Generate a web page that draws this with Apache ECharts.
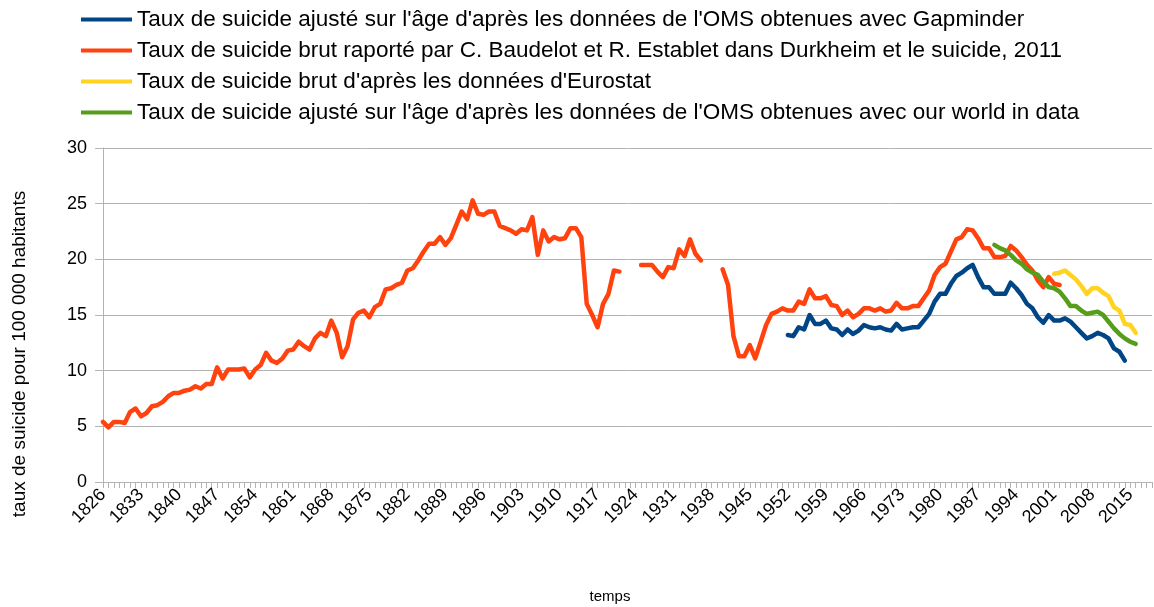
<!DOCTYPE html>
<html>
<head>
<meta charset="utf-8">
<script src="https://cdn.jsdelivr.net/npm/echarts@6/dist/echarts.min.js"></script>
<style>
html,body{margin:0;padding:0;background:#fff;}
#chart{width:1154px;height:607px;}
</style>
</head>
<body>
<div id="chart"></div>
<script>
// Categories (years)
var firstYear = 1826;
var lastYear = 2019;
var years = [];
for (var y = firstYear; y <= lastYear; y++) years.push(String(y));

// Series names
var nameGapminder = "Taux de suicide ajusté sur l'âge d'après les données de l'OMS obtenues avec Gapminder";
var nameBaudelot = "Taux de suicide brut raporté par C. Baudelot et R. Establet dans Durkheim et le suicide, 2011";
var nameEurostat = "Taux de suicide brut d'après les données d'Eurostat";
var nameOWID = "Taux de suicide ajusté sur l'âge d'après les données de l'OMS obtenues avec our world in data";

// Red series (Baudelot & Establet), three segments
var redStart1 = 1826;
var red1 = [5.4, 4.9, 5.4, 5.4, 5.3, 6.3, 6.6, 5.9, 6.2, 6.8, 6.9, 7.2, 7.7, 8.0, 8.0, 8.2, 8.3, 8.6, 8.4, 8.8,
  8.8, 10.3, 9.3, 10.1, 10.1, 10.1, 10.2, 9.4, 10.1, 10.5, 11.6, 10.9, 10.7, 11.1, 11.8, 11.9, 12.6, 12.2, 11.9, 12.9,
  13.4, 13.1, 14.5, 13.4, 11.2, 12.2, 14.6, 15.2, 15.4, 14.8, 15.7, 16.0, 17.3, 17.4, 17.7, 17.9, 19.0, 19.2, 19.9, 20.7,
  21.4, 21.4, 22.0, 21.3, 21.9, 23.1, 24.3, 23.6, 25.3, 24.1, 24.0, 24.3, 24.3, 23.0, 22.8, 22.6, 22.3, 22.7, 22.6, 23.8,
  20.4, 22.6, 21.6, 22.0, 21.8, 21.9, 22.8, 22.8, 22.0, 16.0, 15.0, 13.9, 16.0, 16.9, 19.0, 18.9];
var redStart2 = 1925;
var red2 = [19.5, 19.5, 19.5, 18.9, 18.4, 19.3, 19.2, 20.9, 20.3, 21.8, 20.5, 19.9];
var redStart3 = 1940;
var red3 = [19.1, 17.7, 13.1, 11.3, 11.3, 12.3, 11.1, 12.6, 14.1, 15.1, 15.3, 15.6, 15.4, 15.4, 16.2, 16.0, 17.3, 16.5,
  16.5, 16.7, 15.9, 15.8, 15.0, 15.4, 14.8, 15.1, 15.6, 15.6, 15.4, 15.6, 15.3, 15.4, 16.1, 15.6, 15.6, 15.8, 15.8, 16.5,
  17.2, 18.6, 19.3, 19.6, 20.7, 21.8, 22.0, 22.7, 22.6, 21.9, 21.0, 21.0, 20.2, 20.2, 20.3, 21.2, 20.8, 20.2, 19.5, 19.0,
  18.1, 17.5, 18.4, 17.8, 17.7];

// Blue series (WHO via Gapminder)
var blueStart = 1952;
var blue = [13.2, 13.1, 13.9, 13.7, 15.0, 14.2, 14.2, 14.5, 13.8, 13.7, 13.2, 13.7, 13.3, 13.6, 14.1, 13.9, 13.8, 13.9,
  13.7, 13.6, 14.2, 13.7, 13.8, 13.9, 13.9, 14.5, 15.1, 16.2, 16.9, 16.9, 17.8, 18.5, 18.8, 19.2, 19.5, 18.4, 17.5, 17.5,
  16.9, 16.9, 16.9, 17.9, 17.4, 16.8, 16.0, 15.6, 14.8, 14.3, 15.0, 14.5, 14.5, 14.7, 14.4, 13.9, 13.4, 12.9, 13.1, 13.4,
  13.2, 12.9, 12.0, 11.7, 10.9];

// Yellow series (Eurostat)
var yellowStart = 2001;
var yellow = [18.7, 18.8, 19.0, 18.6, 18.2, 17.6, 16.9, 17.4, 17.4, 17.0, 16.7, 15.7, 15.4, 14.2, 14.1, 13.4];

// Green series (WHO via Our World in Data)
var greenStart = 1990;
var green = [21.3, 21.0, 20.8, 20.4, 19.9, 19.6, 19.1, 18.8, 18.6, 18.0, 17.5, 17.4, 17.1, 16.5, 15.8, 15.8, 15.4, 15.1,
  15.2, 15.3, 15.0, 14.4, 13.8, 13.3, 12.9, 12.6, 12.4];

// Y-axis ticks
var yMin = 0, yMax = 30, yStep = 5;

function place(target, start, values) {
  for (var i = 0; i < values.length; i++) {
    var idx = start - firstYear + i;
    if (idx >= 0 && idx < target.length) target[idx] = values[i];
  }
}
function emptyRow() { var a = []; for (var i = 0; i < years.length; i++) a.push(null); return a; }

var redData = emptyRow(); place(redData, redStart1, red1); place(redData, redStart2, red2); place(redData, redStart3, red3);
var blueData = emptyRow(); place(blueData, blueStart, blue);
var yellowData = emptyRow(); place(yellowData, yellowStart, yellow);
var greenData = emptyRow(); place(greenData, greenStart, green);

var FONT = 'Liberation Sans, Arial, sans-serif';
var GRID = '#b3b3b3';

function lineSeries(name, data, color) {
  return {
    name: name, type: 'line', data: data, symbol: 'none', connectNulls: false,
    color: color,
    lineStyle: { width: 4.5, color: color, join: 'round', cap: 'round' },
    emphasis: { disabled: true }
  };
}

var chart = echarts.init(document.getElementById('chart'));
chart.setOption({
  animation: false,
  backgroundColor: '#ffffff',
  textStyle: { fontFamily: FONT },
  legend: {
    orient: 'vertical', left: 81, top: 8, padding: 0,
    icon: 'rect', itemWidth: 51, itemHeight: 4, itemGap: 8,
    textStyle: { fontSize: 22.5, lineHeight: 22, color: '#000', fontFamily: FONT },
    data: [nameGapminder, nameBaudelot, nameEurostat, nameOWID]
  },
  grid: { left: 103, right: 2, top: 148, bottom: 125, containLabel: false, outerBoundsMode: 'none' },
  xAxis: {
    type: 'category', data: years, boundaryGap: false,
    name: 'temps', nameLocation: 'middle', nameGap: 107,
    nameTextStyle: { fontSize: 15, color: '#000', fontFamily: FONT, padding: [0, 35, 0, 0] },
    axisLine: { lineStyle: { color: GRID, width: 1 } },
    axisTick: { show: true, interval: 0, length: 6, lineStyle: { color: GRID } },
    axisLabel: { interval: 6, rotate: 45, fontSize: 18, color: '#000', margin: 10, fontFamily: FONT },
    splitLine: { show: false }
  },
  yAxis: {
    type: 'value', min: yMin, max: yMax, interval: yStep,
    name: 'taux de suicide pour 100 000 habitants', nameLocation: 'middle', nameGap: 74, nameRotate: 90,
    nameTextStyle: { fontSize: 19, color: '#000', fontFamily: FONT, padding: [0, 78, 0, 0] },
    axisLine: { show: true, lineStyle: { color: GRID, width: 1 } },
    axisTick: { show: true, length: 8, lineStyle: { color: GRID } },
    axisLabel: { fontSize: 18, color: '#000', margin: 16, fontFamily: FONT },
    splitLine: { show: true, lineStyle: { color: GRID, width: 1 } }
  },
  series: [
    lineSeries(nameGapminder, blueData, '#004586'),
    lineSeries(nameBaudelot, redData, '#ff420e'),
    lineSeries(nameEurostat, yellowData, '#ffd320'),
    lineSeries(nameOWID, greenData, '#579d1c')
  ]
});
</script>
</body>
</html>
